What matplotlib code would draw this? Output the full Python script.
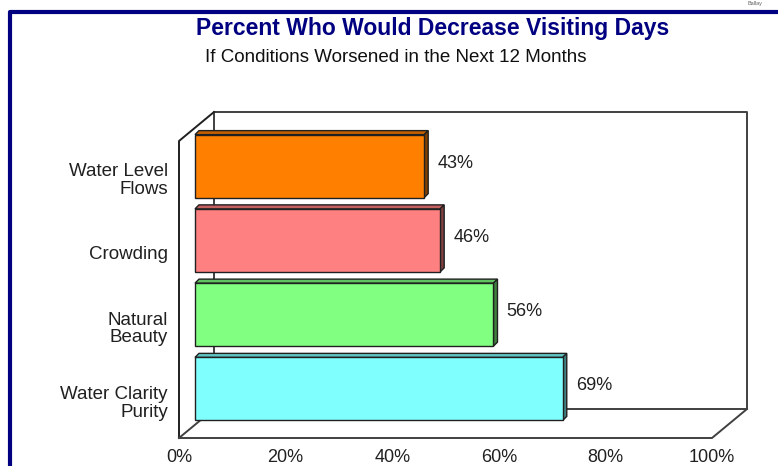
import numpy as np
import matplotlib.pyplot as plt
from matplotlib.patches import Polygon

plt.rcParams['font.family'] = ['Liberation Sans', 'DejaVu Sans']

# data, bottom to top
categories = ['Water Clarity\nPurity', 'Natural\nBeauty', 'Crowding', 'Water Level\nFlows']
values = [69, 56, 46, 43]
face_colors = ['#80FFFF', '#80FF80', '#FF8080', '#FF8000']
top_colors = ['#5FC4C4', '#5FC45F', '#C46060', '#C46000']
side_colors = ['#3F8080', '#3F803F', '#804040', '#804000']
xticks = [0, 20, 40, 60, 80, 100]

W, H = 778, 466
fig = plt.figure(figsize=(W / 100, H / 100), dpi=100)

# front plane of the 3d box, in pixels
x0, x1, y_top, y_bot = 179, 712, 141, 438
ax = fig.add_axes([x0 / W, 1 - y_bot / H, (x1 - x0) / W, (y_bot - y_top) / H])
ax.set_xlim(0, 100)
ax.set_ylim(-0.5, 3.5)
px_x = (x1 - x0) / 100.0
px_y = (y_bot - y_top) / 4.0

# depth offsets (pixels -> data units)
back_dx, back_dy = 35 / px_x, 29 / px_y
bar_dx, bar_dy = 16 / px_x, 12 / px_y
dep_dx, dep_dy = 4 / px_x, 4 / px_y
bar_h = 63 / px_y

wall = dict(color='#404040', lw=1.4, clip_on=False, zorder=1)
# back wall
ax.plot([back_dx, back_dx, 100 + back_dx, 100 + back_dx, back_dx],
        [-0.5 + back_dy, 3.5 + back_dy, 3.5 + back_dy, -0.5 + back_dy, -0.5 + back_dy], **wall)
# left wall
ax.plot([0, 0, back_dx], [-0.5, 3.5, 3.5 + back_dy], color='#202020', lw=1.4, clip_on=False, zorder=1)
ax.plot([0, back_dx], [-0.5, -0.5 + back_dy], **wall)
# floor
ax.plot([0, 100, 100 + back_dx], [-0.5, -0.5, -0.5 + back_dy], **wall)

ypos = np.arange(len(categories))
ax.barh(ypos + bar_dy, values, left=bar_dx, height=bar_h, color=face_colors,
        edgecolor='#202020', linewidth=1.0, clip_on=False, zorder=4)

for i, v in enumerate(values):
    yc = ypos[i] + bar_dy
    xl, xr = bar_dx, bar_dx + v
    yt, yb = yc + bar_h / 2, yc - bar_h / 2
    top = Polygon([[xl, yt], [xr, yt], [xr + dep_dx, yt + dep_dy], [xl + dep_dx, yt + dep_dy]],
                  closed=True, facecolor=top_colors[i], edgecolor='#202020', lw=1.0,
                  clip_on=False, zorder=3)
    side = Polygon([[xr, yb], [xr, yt], [xr + dep_dx, yt + dep_dy], [xr + dep_dx, yb + dep_dy]],
                   closed=True, facecolor=side_colors[i], edgecolor='#202020', lw=1.0,
                   clip_on=False, zorder=3)
    ax.add_patch(top)
    ax.add_patch(side)
    ax.text(xr + dep_dx + 9 / px_x, yc + 0.04, f'{v}%', ha='left', va='center',
            fontsize=13, color='#202020')

for s in ax.spines.values():
    s.set_visible(False)
ax.set_xticks(xticks)
ax.set_xticklabels([f'{t}%' for t in xticks], fontsize=13, color='#202020')
ax.set_yticks(ypos)
ax.set_yticklabels(categories, fontsize=13.5, color='#202020', ha='right', multialignment='right',
                   linespacing=1.05)
ax.tick_params(length=0)
ax.tick_params(axis='x', pad=8)
ax.tick_params(axis='y', pad=8)

# navy frame
fig.add_artist(plt.Line2D([10 / W, 10 / W, 1.0], [0, 1 - 12 / H, 1 - 12 / H],
                          color='#000080', lw=3, transform=fig.transFigure))
fig.text(755 / W, 1 - 4 / H, 'Ballay', fontsize=4, color='#606060', ha='center', va='center')

fig.text(433 / W, 1 - 28 / H, 'Percent Who Would Decrease Visiting Days', fontsize=16.5,
         fontweight='bold', color='#000080', ha='center', va='center')
fig.text(396 / W, 1 - 58 / H, 'If Conditions Worsened in the Next 12 Months', fontsize=13.5,
         color='#101010', ha='center', va='center')

fig.savefig('out.png', dpi=100)
